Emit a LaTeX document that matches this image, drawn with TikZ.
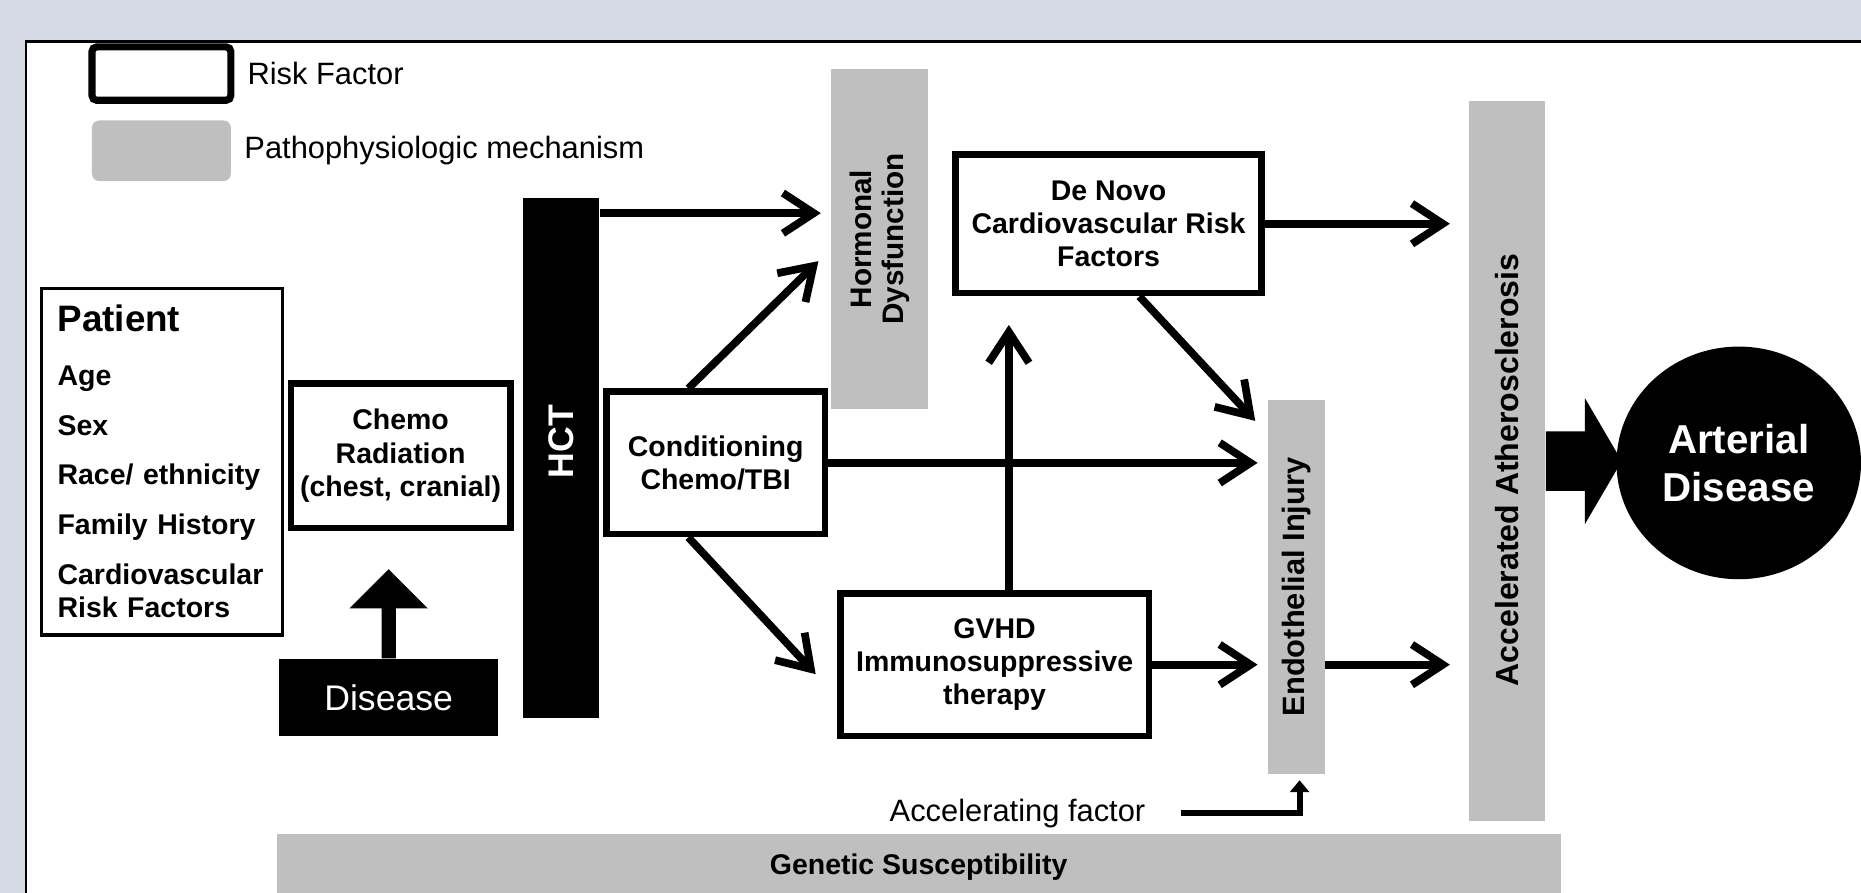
\documentclass[tikz,border=0pt]{standalone}
\usepackage{fontspec}
\setmainfont{Liberation Sans}
\usetikzlibrary{positioning, arrows.meta, shapes.geometric}

\definecolor{mechgray}{RGB}{191,191,191}
\definecolor{slidebg}{RGB}{213,218,228}

\begin{document}
\begin{tikzpicture}[
        x=0.5pt,
        y=-0.5pt,
        >={Straight Barb[length=13pt,width=17pt]},
        every node/.style={font=\bfseries\fontsize{12}{14}\selectfont, align=center},
        risk/.style={draw, line width=2.75pt, fill=white, inner sep=0pt},
        mech/.style={fill=mechgray, inner sep=0pt},
        solid/.style={fill=black, text=white, inner sep=0pt},
        plain/.style={font=\fontsize{13}{15}\selectfont},
        arr/.style={->, line width=3.25pt}
    ]
    \useasboundingbox (0,0) rectangle (1568,752);
    \fill[slidebg] (0,0) rectangle (1568,752);
    \draw[line width=1pt, fill=white] (22,35) rectangle (1600,790);

    % legend
    \node[risk, line width=3pt, rounded corners=2pt, minimum width=58.5pt, minimum height=22.5pt] (legrisk) at (136,62) {};
    \node[plain, right=2pt of legrisk] (legrisktxt) {Risk Factor};
    \node[mech, rounded corners=3pt, minimum width=58.5pt, minimum height=25.5pt] (legmech) at (136,127) {};
    \node[plain, right=2pt of legmech] (legmechtxt) {Pathophysiologic mechanism};

    % risk factors
    \node[risk, line width=1.5pt, minimum width=101.5pt, minimum height=146pt, text width=88pt, align=left] (patient) at (136.5,389) {
            {\fontsize{15.5}{14}\selectfont Patient}\\[8.5pt]
            Age\\[7pt]
            Sex\\[7pt]
            Race/ ethnicity\\[7pt]
            Family History\\[7pt]
            Cardiovascular\\
            Risk Factors
        };
    \node[risk, minimum width=92.5pt, minimum height=61pt] (chemo) at (337.5,384) {Chemo\\Radiation\\(chest, cranial)};
    \node[solid, minimum width=92.5pt, minimum height=32.5pt, font=\fontsize{15}{17}\selectfont] (disease) at (327.5,587.5) {Disease};
    \node[solid, minimum width=32pt, minimum height=219pt] (hct) at (473,386) {};
    \node[rotate=90, text=white, font=\bfseries\fontsize{15}{17}\selectfont] (hcttxt) at (473,372) {HCT};
    \node[risk, minimum width=92pt, minimum height=60pt] (cond) at (603,390) {Conditioning\\Chemo/TBI};
    \node[risk, minimum width=129pt, minimum height=58.5pt] (denovo) at (934,188.5) {De Novo\\Cardiovascular Risk\\Factors};
    \node[risk, minimum width=130pt, minimum height=60pt] (gvhd) at (838,560) {GVHD\\Immunosuppressive\\therapy};

    % mechanisms
    \node[mech, minimum width=41pt, minimum height=143.5pt] (horm) at (741,201.5) {};
    \node[rotate=90, font=\bfseries\fontsize{12.5}{13.5}\selectfont] (hormtxt) at (horm) {Hormonal\\Dysfunction};
    \node[mech, minimum width=24pt, minimum height=157.5pt] (endo) at (1092,494.5) {};
    \node[rotate=90, font=\bfseries\fontsize{13}{15}\selectfont] (endotxt) at (endo) {Endothelial Injury};
    \node[mech, minimum width=32pt, minimum height=303.5pt] (ather) at (1270,388.5) {};
    \node[rotate=90, font=\bfseries\fontsize{13.5}{15}\selectfont] (athertxt) at (1270,396) {Accelerated Atherosclerosis};
    \node[mech, minimum width=541pt, minimum height=28pt] (gen) at (774,731) {Genetic Susceptibility};

    \node[ellipse, solid, minimum width=103pt, minimum height=98pt, font=\bfseries\fontsize{17}{20}\selectfont] (art) at (1465,390) {Arterial\\Disease};
    \node[plain, anchor=east] (acc) at (972,685) {Accelerating factor};

    % block arrows
    \fill (disease.north) ++(-6,0) -- ++(0,-42) -- ++(-27,0) -- ++(33,-33) -- ++(33,33) -- ++(-27,0) -- ++(0,42) -- cycle;
    \fill (ather.east) ++(0,-25) -- ++(33,0) -- ++(0,-28) -- ++(31,53) -- ++(-31,53) -- ++(0,-28) -- ++(-33,0) -- cycle;

    % connectors
    \coordinate (hcttop) at ([yshift=-6.5pt]hct.north east);
    \draw[arr, shorten >=4pt] (hcttop) -- (hcttop -| horm.west);
    \draw[arr] ([xshift=-11.5pt]cond.north) -- ([xshift=-5pt,yshift=-9.25pt]horm.west);
    \draw[arr] ([xshift=-11.5pt]cond.south) -- ([xshift=-9pt,yshift=-4pt]gvhd.west);
    \draw[arr, shorten >=4pt] (cond.east) -- (cond.east -| endo.west);

    \coordinate (gvtop) at ([xshift=6pt]gvhd.north);
    \draw[arr, shorten >=12pt] (gvtop) -- (gvtop |- denovo.south);
    \draw[arr, shorten >=4pt] (gvhd.east) -- (gvhd.east -| endo.west);
    \draw[arr] ([xshift=13pt]denovo.south) -- ([xshift=-5pt,yshift=-9pt]endo.north west);
    \draw[arr, shorten >=8pt] (denovo.east) -- (denovo.east -| ather.west);
    \draw[arr, shorten >=8pt] (endo.east |- gvhd.east) -- (gvhd.east -| ather.west);

    \draw[line width=2.5pt, -{Triangle[length=5pt,width=8pt]}] ([xshift=11.5pt]acc.east) -| ([xshift=1.5pt,yshift=-2.5pt]endo.south);
\end{tikzpicture}
\end{document}
